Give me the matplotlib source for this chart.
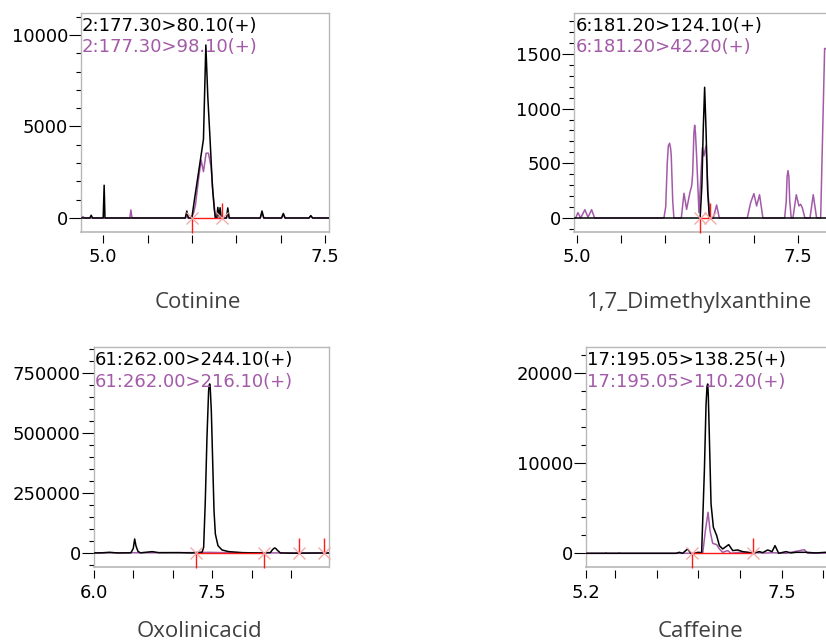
import matplotlib
matplotlib.use("Agg")
import matplotlib.pyplot as plt
from matplotlib.ticker import MultipleLocator

# ---- data: retention time (min) and intensity ----
# Cotinine
cot_name = "Cotinine"
cot_labels = ["2:177.30>80.10(+)", "2:177.30>98.10(+)"]
cot_t_k = [4.75, 4.85, 4.865, 4.88, 5.0, 5.011, 5.02, 5.925, 5.943, 5.96, 5.999,
           6.028, 6.073, 6.118, 6.13, 6.157, 6.179, 6.205, 6.231, 6.253, 6.265,
           6.28, 6.292, 6.305, 6.318, 6.33, 6.39, 6.404, 6.42, 6.77, 6.79, 6.81,
           7.01, 7.03, 7.05, 7.32, 7.34, 7.36, 7.545]
cot_v_k = [0, 0, 150, 0, 0, 1790, 0, 0, 380, 0, 0,
           980, 2440, 3900, 4300, 9450, 6630, 4260, 1710, 440, 0,
           0, 580, 100, 560, 0, 0, 550, 0, 0, 380, 0,
           0, 250, 0, 0, 130, 0, 0]
cot_t_p = [4.75, 4.77, 4.79, 5.30, 5.312, 5.325, 5.93, 5.943, 5.96, 5.995, 6.02,
           6.04, 6.078, 6.104, 6.13, 6.16, 6.186, 6.216, 6.242, 6.265, 6.39, 6.404,
           6.42, 6.77, 6.79, 6.81, 7.01, 7.03, 7.05, 7.32, 7.34, 7.36, 7.545]
cot_v_p = [50, 80, 0, 0, 440, 0, 0, 150, 0, 0, 300,
           710, 2260, 3170, 2530, 3540, 3540, 2800, 1160, 0, 0, 300,
           0, 0, 250, 0, 0, 180, 0, 0, 100, 0, 0]
cot_int = [6.0, 6.337]

# 1,7-Dimethylxanthine
dmx_name = "1,7_Dimethylxanthine"
dmx_labels = ["6:181.20>124.10(+)", "6:181.20>42.20(+)"]
dmx_t_k = [4.97, 6.395, 6.415, 6.43, 6.446, 6.462, 6.48, 6.50, 8.05]
dmx_v_k = [0, 0, 300, 800, 1195, 800, 250, 0, 0]
dmx_t_p = [4.97, 4.985, 5.011, 5.042, 5.09, 5.125, 5.166, 5.20, 5.985, 6.005,
           6.023, 6.035, 6.049, 6.06, 6.068, 6.085, 6.098, 6.182, 6.212, 6.242,
           6.279, 6.299, 6.31, 6.325, 6.333, 6.342, 6.355, 6.382, 6.42, 6.438,
           6.461, 6.487, 6.506, 6.544, 6.582, 6.612, 6.929, 6.967, 7.004, 7.035,
           7.068, 7.106, 7.352, 7.37, 7.38, 7.39, 7.40, 7.41, 7.427, 7.446,
           7.484, 7.514, 7.533, 7.552, 7.582, 7.639, 7.676, 7.714, 7.76, 7.805,
           7.85]
dmx_v_p = [0, 0, 49, 0, 76, 6, 76, 0, 0, 100,
           506, 660, 683, 640, 567, 150, 0, 0, 226, 79,
           232, 293, 400, 780, 848, 780, 567, 49, 643, 567,
           659, 201, 0, 0, 119, 0, 0, 140, 223, 110,
           213, 0, 0, 150, 380, 433, 380, 150, 0, 0,
           213, 110, 125, 95, 0, 0, 213, 0, 0, 1550,
           1540]
dmx_int = [6.39, 6.506]

# Oxolinic acid
oxo_name = "Oxolinicacid"
oxo_labels = ["61:262.00>244.10(+)", "61:262.00>216.10(+)"]
oxo_t_k = [6.0, 6.10, 6.20, 6.30, 6.45, 6.47, 6.50, 6.518, 6.535, 6.56, 6.59,
           6.74, 6.82, 7.075, 7.24, 7.37, 7.39, 7.411, 7.432, 7.453, 7.46, 7.466,
           7.472, 7.487, 7.504, 7.521, 7.538, 7.571, 7.622, 7.706, 7.875, 8.086,
           8.233, 8.26, 8.284, 8.30, 8.318, 8.36, 8.51, 8.97]
oxo_v_k = [1500, 2000, 4200, 1500, 2000, 2000, 20000, 59700, 30000, 8000, 2000,
           7000, 2800, 2800, 1500, 4200, 25000, 219000, 483000, 678000, 700000, 706000,
           698000, 594000, 386000, 178000, 80600, 32000, 13900, 7000, 2800, 1400,
           2800, 15000, 22000, 21000, 14000, 1400, 500, 1400]
oxo_t_p = [6.0, 6.3, 6.5, 6.6, 7.0, 7.3, 7.466, 7.6, 8.0, 8.5, 8.97]
oxo_v_p = [1500, 2000, 2500, 2000, 2500, 3000, 4000, 3000, 2000, 1500, 1500]
oxo_int = [7.297, 8.157, 8.59, 8.915]

# Caffeine
caf_name = "Caffeine"
caf_labels = ["17:195.05>138.25(+)", "17:195.05>110.20(+)"]
caf_t_k = [5.152, 6.232, 6.272, 6.312, 6.372, 6.412, 6.44, 6.493, 6.54, 6.573,
           6.593, 6.605, 6.613, 6.62, 6.633, 6.653, 6.681, 6.721, 6.753, 6.793,
           6.865, 6.913, 6.973, 7.033, 7.093, 7.153, 7.233, 7.273, 7.333, 7.385,
           7.421, 7.465, 7.553, 7.613, 7.673, 7.793, 7.913, 8.033, 8.28]
caf_v_k = [0, 0, 110, 0, 480, 0, -70, 110, 70, 9150,
           16500, 18500, 18750, 17500, 12800, 5460, 2880, 1960, 850, 480,
           960, 300, 370, 185, 110, 0, 185, 70, 370, 185,
           850, 0, 185, 40, 110, 110, 40, 110, 100]
caf_t_p = [5.152, 5.38, 5.392, 5.40, 5.54, 5.552, 5.565, 6.553, 6.585, 6.617,
           6.641, 6.673, 6.721, 6.753, 6.793, 6.853, 6.893, 6.993, 7.313, 7.393,
           7.553, 7.773, 7.813, 7.953, 8.28]
caf_v_p = [0, 0, 80, 0, 0, 70, 0, 0, 2500, 4540,
           2500, 1100, 960, 480, 110, 300, 0, 110, 30, 60,
           0, 400, 0, 30, 0]
caf_int = [6.424, 7.161]

W, H = 826, 643
PURPLE = "#a35aa8"
BOX = "#b8b8b8"
RED = "#ff1a1a"
PINK = "#f7a3a3"

fig = plt.figure(figsize=(W / 100, H / 100), dpi=100)


def px_axes(left, top, right, bottom):
    return fig.add_axes([left / W, 1 - bottom / H, (right - left) / W, (bottom - top) / H])


def panel(box, xlim, ylim, xticks, xlabels, ymajor, yminor,
          t_k, v_k, t_p, v_p, ints, labels, name, name_xy):
    ax = px_axes(*box)
    ax.set_xlim(*xlim)
    ax.set_ylim(*ylim)
    ax.plot(t_p, v_p, color=PURPLE, lw=1.1, zorder=2)
    ax.plot(t_k, v_k, color="black", lw=1.1, zorder=3)

    # integration marks
    ax.plot([ints[0], ints[1]], [0, 0], color=RED, lw=1.0, zorder=4)
    for i, t in enumerate(ints):
        down = (i == 0) if len(ints) == 2 else (i < 2)
        mk = [(0, 0), (0, -1)] if down else [(0, 0), (0, 1)]
        ax.plot([t], [0], marker=mk, ms=21, mec=RED, mew=1.0, ls="none",
                zorder=5, clip_on=False)
        ax.plot([t], [0], marker="x", ms=8, mec=PINK, mew=0.9, ls="none",
                zorder=5, clip_on=False)

    for s in ax.spines.values():
        s.set_color(BOX)
        s.set_linewidth(1.0)
    ax.spines["bottom"].set_color("none")
    ax.spines["bottom"].set_position(("outward", 2.2))
    ax.plot([0, 1], [0, 0], transform=ax.transAxes, color=BOX, lw=1.2, clip_on=False)

    ax.set_xticks(xticks)
    ax.set_xticklabels(xlabels)
    ax.set_yticks([v for v in range(0, int(ylim[1]) + 1, ymajor)])
    ax.yaxis.set_minor_locator(MultipleLocator(yminor))
    ax.tick_params(axis="x", direction="out", length=6, width=0.8, pad=3.5,
                   labelsize=13, colors="black")
    ax.tick_params(axis="y", which="major", direction="out", length=8.6, width=0.8,
                   pad=0.7, labelsize=13)
    ax.tick_params(axis="y", which="minor", direction="out", length=3.6, width=0.8)
    for lab in ax.get_xticklabels() + ax.get_yticklabels():
        lab.set_family("DejaVu Sans")

    l, t = box[0], box[1]
    fig.text((l + 1) / W, 1 - (t + 18) / H, labels[0], color="black", fontsize=13,
             family="DejaVu Sans", va="baseline")
    fig.text((l + 1) / W, 1 - (t + 39.5) / H, labels[1], color=PURPLE, fontsize=13,
             family="DejaVu Sans", va="baseline")
    fig.text(name_xy[0] / W, 1 - name_xy[1] / H, name, color="#404040", fontsize=16,
             family="Open Sans", ha="center", va="baseline")
    return ax


panel((81, 13, 329, 232), (4.75, 7.545), (-765, 11200),
      [5.0, 5.5, 6.0, 6.5, 7.0, 7.5], ["5.0", "", "", "", "", "7.5"],
      5000, 1000, cot_t_k, cot_v_k, cot_t_p, cot_v_p, cot_int,
      cot_labels, cot_name, (198, 308))

panel((574.3, 13, 846, 232), (4.97, 8.047), (-128, 1874),
      [5.0, 5.5, 6.0, 6.5, 7.0, 7.5, 8.0], ["5.0", "", "", "", "", "7.5", ""],
      500, 100, dmx_t_k, dmx_v_k, dmx_t_p, dmx_v_p, dmx_int,
      dmx_labels, dmx_name, (700, 308))

panel((93.7, 347.3, 328.7, 567.3), (6.0, 8.971), (-58300, 858300),
      [6.0, 6.5, 7.0, 7.5, 8.0, 8.5], ["6.0", "", "", "7.5", "", ""],
      250000, 50000, oxo_t_k, oxo_v_k, oxo_t_p, oxo_v_p, oxo_int,
      oxo_labels, oxo_name, (199, 637))

panel((586, 347.3, 846, 567.3), (5.152, 8.273), (-1550, 22813),
      [5.152, 5.5, 6.0, 6.5, 7.0, 7.5, 8.0], ["5.2", "", "", "", "", "7.5", ""],
      10000, 2000, caf_t_k, caf_v_k, caf_t_p, caf_v_p, caf_int,
      caf_labels, caf_name, (700, 637))

fig.savefig("out.png", dpi=100)
